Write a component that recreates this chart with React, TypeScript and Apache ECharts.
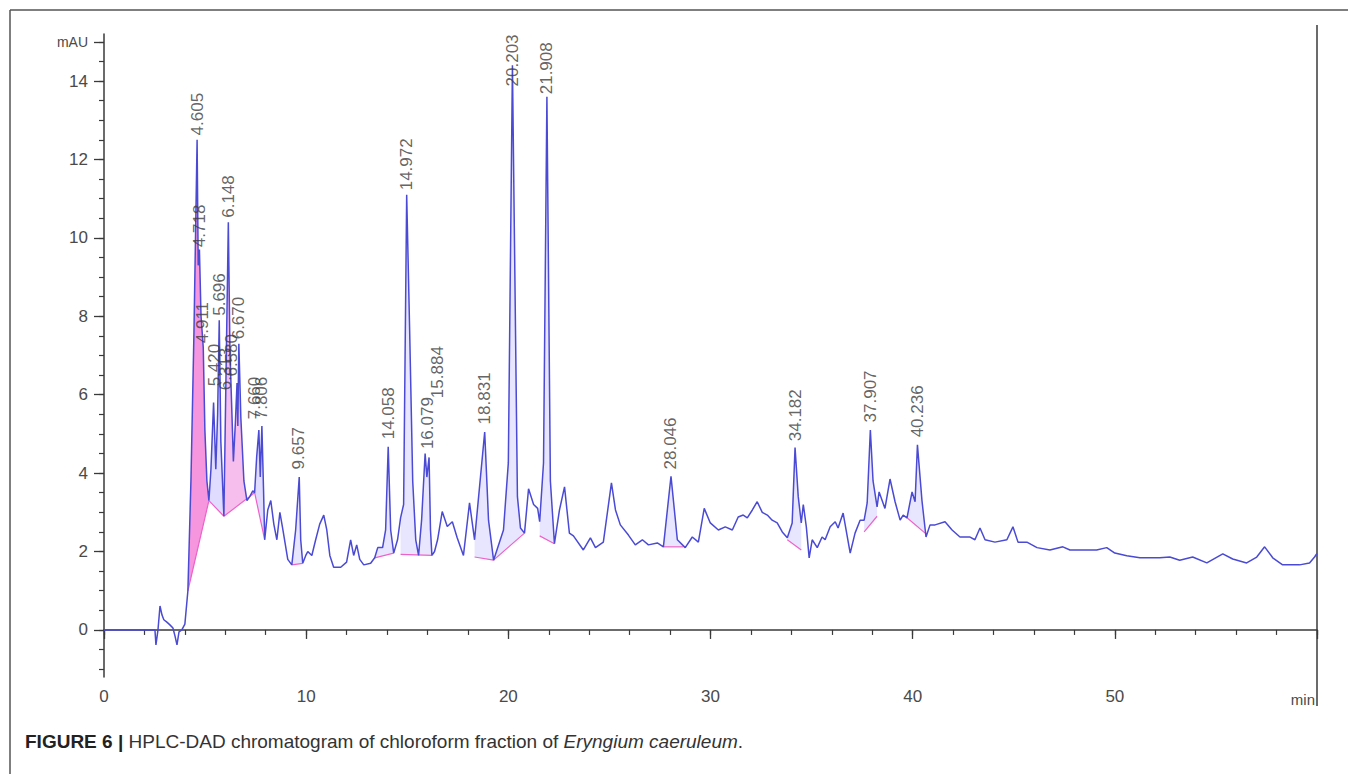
import React, { useEffect, useRef } from "react";
import * as echarts from "echarts";

// Chromatogram signal: [retention time (min), absorbance (mAU)]
const signalPoints: [number, number][] = [
  [0, 0], [1.2, 0.0], [2.3, 0.0], [2.52, 0.0], [2.57, -0.38], [2.67, 0.0], [2.77, 0.61], [2.87, 0.38],
  [2.96, 0.26], [3.11, 0.2], [3.26, 0.13], [3.41, 0.05], [3.51, -0.15], [3.61, -0.38], [3.71, -0.05],
  [3.85, 0.0], [4.0, 0.15], [4.15, 1.0], [4.3, 3.8], [4.45, 7.6], [4.605, 12.5], [4.66, 9.3], [4.72, 9.7],
  [4.8, 8.0], [4.91, 7.2], [4.99, 5.1], [5.09, 3.8], [5.19, 3.3], [5.29, 4.1], [5.42, 5.8], [5.53, 4.1],
  [5.62, 5.5], [5.7, 7.9], [5.78, 4.8], [5.93, 2.9], [6.05, 7.0], [6.15, 10.4], [6.23, 7.1], [6.31, 5.8],
  [6.4, 4.3], [6.5, 5.3], [6.58, 6.3], [6.62, 5.2], [6.67, 7.3], [6.77, 5.4], [6.92, 3.8], [7.07, 3.3],
  [7.21, 3.4], [7.36, 3.55], [7.45, 3.5], [7.55, 4.4], [7.66, 5.1], [7.73, 3.9], [7.81, 5.2], [7.89, 3.6],
  [7.95, 2.3], [8.1, 3.06], [8.25, 3.3], [8.4, 2.7], [8.55, 2.3], [8.7, 3.0], [8.85, 2.55], [9.09, 1.8],
  [9.29, 1.66], [9.48, 2.55], [9.657, 3.9], [9.73, 2.3], [9.83, 1.7], [9.98, 1.9], [10.08, 2.0],
  [10.28, 1.9], [10.47, 2.3], [10.67, 2.7], [10.87, 2.93], [11.02, 2.55], [11.17, 1.9], [11.36, 1.6],
  [11.71, 1.6], [12.0, 1.73], [12.2, 2.3], [12.35, 1.9], [12.5, 2.17], [12.65, 1.8], [12.85, 1.66],
  [13.19, 1.7], [13.39, 1.84], [13.54, 2.1], [13.78, 2.1], [13.93, 2.55], [14.058, 4.67], [14.18, 2.55],
  [14.33, 1.96], [14.52, 2.3], [14.67, 2.86], [14.82, 3.2], [14.972, 11.1], [15.12, 7.6], [15.27, 3.8],
  [15.42, 2.3], [15.56, 1.9], [15.71, 2.8], [15.884, 4.5], [15.97, 3.9], [16.079, 4.4], [16.15, 2.55],
  [16.22, 1.9], [16.35, 2.0], [16.5, 2.3], [16.73, 3.02], [16.98, 2.64], [17.23, 2.76], [17.47, 2.35],
  [17.78, 1.9], [18.08, 3.24], [18.33, 2.3], [18.831, 5.05], [19.02, 2.8], [19.27, 1.78], [19.76, 2.55],
  [20.0, 4.26], [20.203, 14.4], [20.45, 3.4], [20.6, 2.6], [20.8, 2.47], [21.0, 3.6], [21.25, 3.2],
  [21.45, 3.1], [21.55, 2.76], [21.74, 4.26], [21.908, 13.6], [22.08, 3.8], [22.28, 2.2], [22.53, 3.06],
  [22.78, 3.65], [23.02, 2.47], [23.22, 2.4], [23.71, 2.04], [24.06, 2.35], [24.31, 2.1], [24.7, 2.24],
  [25.1, 3.75], [25.3, 3.06], [25.54, 2.68], [25.94, 2.42], [26.28, 2.17], [26.63, 2.3], [26.93, 2.17],
  [27.37, 2.22], [27.67, 2.12], [28.046, 3.92], [28.36, 2.3], [28.75, 2.1], [29.1, 2.37], [29.4, 2.24],
  [29.69, 3.1], [29.99, 2.73], [30.39, 2.55], [30.73, 2.63], [31.08, 2.55], [31.37, 2.88], [31.62, 2.93],
  [31.82, 2.86], [32.07, 3.06], [32.31, 3.27], [32.56, 3.0], [32.81, 2.93], [33.05, 2.8], [33.3, 2.73],
  [33.55, 2.5], [33.8, 2.35], [34.04, 2.73], [34.182, 4.65], [34.34, 3.4], [34.49, 2.73], [34.59, 3.2],
  [34.74, 2.63], [34.88, 1.84], [35.03, 2.3], [35.28, 2.1], [35.52, 2.37], [35.67, 2.3], [35.92, 2.63],
  [36.17, 2.76], [36.31, 2.6], [36.56, 2.98], [36.91, 1.96], [37.15, 2.47], [37.4, 2.8], [37.6, 2.8],
  [37.75, 3.24], [37.907, 5.1], [38.04, 3.8], [38.24, 3.14], [38.34, 3.52], [38.63, 3.1], [38.88, 3.85],
  [39.13, 3.27], [39.38, 2.8], [39.53, 2.93], [39.72, 2.86], [39.97, 3.52], [40.12, 3.27], [40.236, 4.72],
  [40.46, 3.3], [40.66, 2.37], [40.86, 2.68], [41.11, 2.68], [41.6, 2.76], [41.95, 2.55], [42.34, 2.37],
  [42.84, 2.37], [43.08, 2.3], [43.33, 2.6], [43.58, 2.3], [44.07, 2.24], [44.66, 2.3], [44.96, 2.63],
  [45.21, 2.24], [45.65, 2.24], [46.15, 2.1], [46.79, 2.04], [47.43, 2.12], [47.78, 2.04], [48.42, 2.04],
  [49.1, 2.04], [49.6, 2.1], [50.0, 1.96], [50.59, 1.89], [51.24, 1.84], [52.22, 1.84], [52.72, 1.86],
  [53.21, 1.78], [53.85, 1.86], [54.55, 1.71], [55.34, 1.94], [55.83, 1.81], [56.52, 1.71], [57.02, 1.86],
  [57.41, 2.12], [57.81, 1.84], [58.3, 1.66], [59.14, 1.66], [59.63, 1.71], [59.88, 1.86], [60, 1.95],
];

// Integration baselines: [start time, start value, end time, end value]
const baselines: [number, number, number, number][] = [
  [4.15, 1.0, 5.19, 3.3],
  [5.19, 3.3, 5.93, 2.9],
  [5.93, 2.9, 7.45, 3.5],
  [7.45, 3.5, 7.95, 2.3],
  [9.29, 1.66, 9.83, 1.7],
  [13.39, 1.84, 14.33, 1.96],
  [14.67, 1.93, 16.22, 1.9],
  [18.33, 1.86, 19.27, 1.78],
  [19.27, 1.78, 20.8, 2.47],
  [21.55, 2.4, 22.28, 2.2],
  [27.67, 2.12, 28.66, 2.12],
  [33.8, 2.3, 34.49, 2.04],
  [37.6, 2.5, 38.24, 2.9],
  [39.72, 2.86, 40.66, 2.45],
];

// Peak annotations: [label text, label time, label base value]
const peakLabels: [string, number, number][] = [
  ["4.605", 4.605, 12.6],
  ["4.718", 4.72, 9.75],
  ["4.911", 4.85, 7.3],
  ["5.420", 5.45, 6.2],
  ["5.696", 5.73, 8.0],
  ["6.148", 6.15, 10.5],
  ["6.313", 6.0, 6.1],
  ["6.580", 6.33, 6.45],
  ["6.670", 6.65, 7.4],
  ["7.660", 7.45, 5.36],
  ["7.806", 7.8, 5.36],
  ["9.657", 9.6, 4.08],
  ["14.058", 14.058, 4.85],
  ["14.972", 14.972, 11.2],
  ["15.884", 16.5, 5.9],
  ["16.079", 16.0, 4.6],
  ["18.831", 18.831, 5.23],
  ["20.203", 20.203, 13.85],
  ["21.908", 21.908, 13.65],
  ["28.046", 28.046, 4.08],
  ["34.182", 34.182, 4.8],
  ["37.907", 37.907, 5.28],
  ["40.236", 40.236, 4.9],
];

const yLabelValues = [0, 2, 4, 6, 8, 10, 12, 14, 15];
const yMinorTicks = [-1, -0.5, 0, 0.5, 1, 1.5, 2, 2.5, 3, 3.5, 4, 4.5, 5, 5.5, 6, 6.5, 7, 7.5, 8, 8.5, 9, 9.5, 10, 10.5, 11, 11.5, 12, 12.5, 13, 13.5, 14, 14.5, 15];

const FONT = "'Liberation Sans', Arial, sans-serif";
const GRID = { left: 104, top: 34, width: 1213, height: 643 };
const FILLS = [
  "rgba(240,80,200,0.6)",
  "rgba(150,140,255,0.3)",
  "rgba(235,110,215,0.45)",
  "rgba(150,140,255,0.3)",
];

export default function App() {
  const ref = useRef<HTMLDivElement>(null);

  useEffect(() => {
    document.body.style.margin = "0";
    const chart = echarts.init(ref.current as HTMLDivElement, null, { renderer: "svg" });

    const option: any = {
      animation: false,
      backgroundColor: "#ffffff",
      grid: { ...GRID, containLabel: false },
      xAxis: [
        {
          type: "value",
          min: 0,
          max: 60,
          interval: 10,
          axisLine: { show: true, lineStyle: { color: "#3a3a3a", width: 1.5 } },
          axisTick: { show: true, length: 9, lineStyle: { color: "#3a3a3a", width: 1.3 } },
          axisLabel: {
            margin: 11,
            fontSize: 17,
            color: "#4a4a4a",
            fontFamily: FONT,
            formatter: (v: number) => (v === 60 ? "" : String(v)),
          },
          splitLine: { show: false },
        },
        {
          type: "value",
          min: 0,
          max: 60,
          interval: 2,
          position: "bottom",
          axisLine: { show: false },
          axisTick: { show: true, length: 5, lineStyle: { color: "#3a3a3a", width: 1.2 } },
          axisLabel: { show: false },
          splitLine: { show: false },
        },
      ],
      yAxis: [
        {
          type: "value",
          min: -1.2,
          max: 15.2,
          axisLine: { show: true, lineStyle: { color: "#3a3a3a", width: 1.5 } },
          axisTick: { show: true, length: 10, customValues: yLabelValues, lineStyle: { color: "#3a3a3a", width: 1.3 } },
          axisLabel: {
            customValues: yLabelValues,
            margin: 16,
            fontSize: 17,
            color: "#4a4a4a",
            fontFamily: FONT,
            formatter: (v: number) => (v === 15 ? "{u|mAU}" : String(v)),
            rich: { u: { fontSize: 14, color: "#4a4a4a", fontFamily: FONT } },
          },
          splitLine: { show: false },
        },
        {
          type: "value",
          min: -1.2,
          max: 15.2,
          position: "left",
          axisLine: { show: false },
          axisTick: { show: true, length: 5, customValues: yMinorTicks, lineStyle: { color: "#3a3a3a", width: 1.2 } },
          axisLabel: { show: false },
          splitLine: { show: false },
        },
      ],
      series: [
        {
          type: "custom",
          name: "integration",
          coordinateSystem: "cartesian2d",
          xAxisIndex: 0,
          yAxisIndex: 0,
          encode: { x: [0, 2], y: [1, 3] },
          data: baselines,
          z: 1,
          renderItem: (params: any, api: any) => {
            const idx = params.dataIndex;
            const [t1, v1, t2, v2] = baselines[idx];
            const pts: number[][] = [api.coord([t1, v1])];
            signalPoints.forEach(([t, v]) => {
              if (t >= t1 && t <= t2) pts.push(api.coord([t, v]));
            });
            pts.push(api.coord([t2, v2]));
            const a = api.coord([t1, v1]);
            const b = api.coord([t2, v2]);
            return {
              type: "group",
              children: [
                {
                  type: "polygon",
                  shape: { points: pts },
                  style: { fill: FILLS[idx] || "rgba(150,140,255,0.22)", stroke: "none" },
                },
                {
                  type: "line",
                  shape: { x1: a[0], y1: a[1], x2: b[0], y2: b[1] },
                  style: { stroke: "#ee62c8", lineWidth: 1.2 },
                },
              ],
            };
          },
        },
        {
          type: "line",
          name: "signal",
          xAxisIndex: 0,
          yAxisIndex: 0,
          data: signalPoints,
          showSymbol: false,
          symbol: "none",
          z: 3,
          lineStyle: { color: "#4a4ad4", width: 1.5 },
        },
        {
          type: "scatter",
          name: "peaks",
          xAxisIndex: 0,
          yAxisIndex: 0,
          data: peakLabels.map(([txt, t, v]) => [t, v, txt]),
          symbolSize: 1,
          itemStyle: { color: "rgba(0,0,0,0)" },
          z: 4,
          label: {
            show: true,
            position: "top",
            distance: 0,
            rotate: 90,
            align: "left",
            verticalAlign: "middle",
            fontSize: 17,
            color: "#3c3c3c",
            fontFamily: FONT,
            formatter: (p: any) => p.data[2],
          },
        },
      ],
      graphic: [
        { type: "line", shape: { x1: 10, y1: 10, x2: 1348, y2: 10 }, style: { stroke: "#555", lineWidth: 1.5 } },
        { type: "line", shape: { x1: 10, y1: 10, x2: 10, y2: 774 }, style: { stroke: "#555", lineWidth: 1.5 } },
        { type: "line", shape: { x1: 1317, y1: 25, x2: 1317, y2: 706 }, style: { stroke: "#3a3a3a", lineWidth: 1.5 } },
        {
          type: "text",
          x: 1315,
          y: 699,
          style: { text: "min", fontSize: 15, fill: "#4a4a4a", fontFamily: FONT, align: "right", verticalAlign: "middle" },
        },
        {
          type: "text",
          x: 25,
          y: 741,
          style: {
            text: "{b|FIGURE 6 |} HPLC-DAD chromatogram of chloroform fraction of {i|Eryngium caeruleum}.",
            fontSize: 19,
            fill: "#333",
            fontFamily: FONT,
            verticalAlign: "middle",
            rich: {
              b: { fontSize: 19, fontWeight: "bold", fill: "#222", fontFamily: FONT },
              i: { fontSize: 19, fontStyle: "italic", fill: "#333", fontFamily: FONT },
            },
          },
        },
      ],
    };

    chart.setOption(option);
    return () => chart.dispose();
  }, []);

  return <div ref={ref} style={{ width: 1348, height: 774 }} />;
}
